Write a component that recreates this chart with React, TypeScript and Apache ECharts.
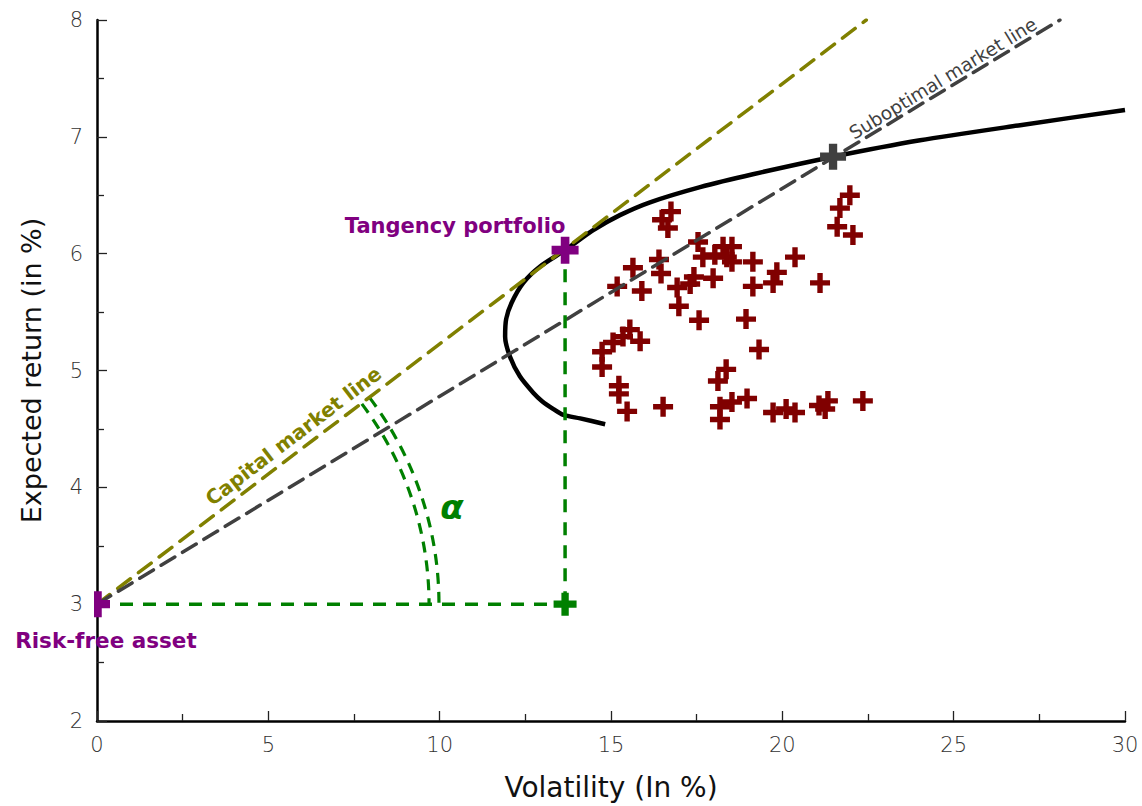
import { useEffect, useRef } from "react";
import * as echarts from "echarts";

// ---- data ----
const frontierX = [14.83, 14.1, 13.61, 13.32, 12.98, 12.73, 12.34, 12.05, 11.91, 11.94, 12.1, 12.44, 12.93, 13.66, 14.47, 15.26, 16.14, 17.6, 19.14, 21.49, 24.02, 26.94, 30.0];
const frontierY = [4.54, 4.59, 4.62, 4.67, 4.74, 4.81, 4.95, 5.12, 5.29, 5.44, 5.58, 5.75, 5.89, 6.03, 6.2, 6.33, 6.44, 6.57, 6.68, 6.83, 6.97, 7.1, 7.23];

const assetX = [16.75, 16.49, 16.66, 17.54, 16.4, 15.64, 16.46, 15.18, 15.9, 16.93, 17.31, 17.42, 17.68, 18.03, 18.27, 18.53, 18.53, 18.38, 17.98, 19.14, 19.14, 19.84, 19.73, 20.37, 21.1, 21.97, 21.68, 21.6, 22.06, 16.98, 17.57, 18.94, 19.32, 15.55, 15.85, 15.35, 15.06, 14.74, 14.74, 15.23, 15.23, 15.47, 16.52, 18.36, 18.12, 18.18, 18.53, 18.97, 18.18, 19.73, 20.11, 20.37, 21.07, 21.33, 21.25, 22.35];
const assetY = [6.36, 6.29, 6.22, 6.1, 5.95, 5.88, 5.83, 5.72, 5.68, 5.71, 5.74, 5.8, 5.97, 5.99, 6.06, 6.06, 5.93, 5.97, 5.79, 5.93, 5.72, 5.84, 5.75, 5.97, 5.75, 6.5, 6.39, 6.23, 6.16, 5.55, 5.43, 5.44, 5.18, 5.35, 5.25, 5.29, 5.24, 5.16, 5.03, 4.87, 4.8, 4.65, 4.69, 5.01, 4.91, 4.69, 4.73, 4.76, 4.58, 4.64, 4.67, 4.64, 4.7, 4.74, 4.67, 4.74];

const riskFreeX = [0];
const riskFreeY = [3];
const tangencyX = [13.66];
const tangencyY = [6.03];
const suboptimalX = [21.48];
const suboptimalY = [6.83];

const cmlX = [0, 22.45];
const cmlY = [3, 8];
const smlX = [0, 28.1];
const smlY = [3, 8];

const arcRadii = [9.69, 9.98];

const xTicks = [0, 5, 10, 15, 20, 25, 30];
const yTicks = [2, 3, 4, 5, 6, 7, 8];

const labelTexts = ["Tangency portfolio", "Risk-free asset", "Capital market line", "Suboptimal market line", "α"];
const labelX = [10.45, 0.26, 5.73, 24.69, 10.36];
const labelY = [6.24, 2.69, 4.44, 7.5, 3.83];

const PURPLE = "#800080";
const OLIVE = "#808000";
const GREEN = "#008000";
const GREY = "#404040";
const RED = "#800000";

const PLUS = "path://M-1.35,-5H1.35V-1.35H5V1.35H1.35V5H-1.35V1.35H-5V-1.35H-1.35Z";
const PLUS_BOLD = "path://M-1.6,-5H1.6V-1.6H5V1.6H1.6V5H-1.6V1.6H-5V-1.6H-1.6Z";
const HALF_PLUS = "path://M-1.6,-5H1.6V-1.6H5V1.6H1.6V5H-1.6Z";

const zip = (xs: number[], ys: number[]) => xs.map((x, i) => [x, ys[i]]);

const TICK_FONT = "'DejaVu Sans', sans-serif";
const LABEL_FONT = "'DejaVu Sans', sans-serif";

export default function App() {
  const ref = useRef<HTMLDivElement>(null);
  useEffect(() => {
    if (!ref.current) return;
    const chart = echarts.init(ref.current, null, { renderer: "svg" });

    const labelStyles = [
      { color: PURPLE, fontSize: 21, fontWeight: "bold", rotate: 0, fontStyle: "normal" },
      { color: PURPLE, fontSize: 21.5, fontWeight: "bold", rotate: 0, fontStyle: "normal" },
      { color: OLIVE, fontSize: 20, fontWeight: "bold", rotate: 37.3, fontStyle: "normal" },
      { color: GREY, fontSize: 18.5, fontWeight: "normal", rotate: 31.3, fontStyle: "normal" },
      { color: GREEN, fontSize: 34, fontWeight: "bold", rotate: 0, fontStyle: "italic" },
    ];

    const axisCommon = {
      type: "value" as const,
      splitLine: { show: false },
      minorSplitLine: { show: false },
      axisLine: { show: true, onZero: false, lineStyle: { color: "#000", width: 2.5 } },
      axisTick: { show: true, inside: true, length: 10, lineStyle: { color: "#222", width: 1.3 } },
      minorTick: { show: true, splitNumber: 2, length: 7, lineStyle: { color: "#222", width: 1.3 } },
    };

    chart.setOption({
      animation: false,
      backgroundColor: "#fff",
      grid: { left: 97, right: 17, top: 20, bottom: 84, containLabel: false },
      xAxis: {
        ...axisCommon,
        min: xTicks[0],
        max: xTicks[xTicks.length - 1],
        interval: 5,
        axisLabel: { fontSize: 21, color: "#333", margin: 13, fontFamily: TICK_FONT, fontWeight: 200 },
        name: "Volatility (In %)",
        nameLocation: "middle",
        nameGap: 52,
        nameTextStyle: { fontSize: 28, color: "#111", fontFamily: TICK_FONT },
      },
      yAxis: {
        ...axisCommon,
        min: yTicks[0],
        max: yTicks[yTicks.length - 1],
        interval: 1,
        axisLabel: { fontSize: 21, color: "#333", margin: 14, fontFamily: TICK_FONT, fontWeight: 200 },
        name: "Expected return (in %)",
        nameLocation: "middle",
        nameGap: 52,
        nameRotate: 90,
        nameTextStyle: { fontSize: 27, color: "#111", fontFamily: TICK_FONT },
      },
      series: [
        {
          type: "line",
          data: zip(frontierX, frontierY),
          symbol: "none",
          smooth: 0.25,
          lineStyle: { color: "#000", width: 4.5 },
          z: 2,
        },
        {
          type: "scatter",
          data: zip(assetX, assetY),
          symbol: PLUS,
          symbolSize: 20,
          itemStyle: { color: RED, opacity: 1 },
          z: 3,
        },
        {
          type: "line",
          data: zip(cmlX, cmlY),
          symbol: "none",
          lineStyle: { color: OLIVE, width: 3.5, type: [16, 10], cap: "round" },
          z: 4,
        },
        {
          type: "line",
          data: zip(smlX, smlY),
          symbol: "none",
          lineStyle: { color: GREY, width: 3.5, type: [16, 9], cap: "round" },
          z: 4,
        },
        {
          type: "line",
          data: [
            [riskFreeX[0], riskFreeY[0]],
            [tangencyX[0], riskFreeY[0]],
          ],
          symbol: "none",
          lineStyle: { color: GREEN, width: 3.5, type: [13, 10] },
          z: 4,
        },
        {
          type: "line",
          data: [
            [tangencyX[0], riskFreeY[0]],
            [tangencyX[0], tangencyY[0]],
          ],
          symbol: "none",
          lineStyle: { color: GREEN, width: 3.5, type: [13, 10] },
          z: 4,
        },
        {
          type: "custom",
          data: arcRadii.map((r) => [riskFreeX[0], riskFreeY[0], r]),
          encode: { x: 0, y: 1 },
          z: 4,
          renderItem: (_params: any, api: any) => {
            const c = api.coord([api.value(0), api.value(1)]);
            const e = api.coord([api.value(0) + api.value(2), api.value(1)]);
            const t = api.coord([tangencyX[0], tangencyY[0]]);
            const ang = Math.atan2(c[1] - t[1], t[0] - c[0]);
            return {
              type: "arc",
              shape: { cx: c[0], cy: c[1], r: e[0] - c[0], startAngle: -ang, endAngle: 0, clockwise: true },
              style: { stroke: GREEN, lineWidth: 3.2, fill: null, lineDash: [11, 8] },
            };
          },
        },
        {
          type: "scatter",
          data: zip(suboptimalX, suboptimalY),
          symbol: PLUS_BOLD,
          symbolSize: 26,
          itemStyle: { color: GREY, opacity: 1 },
          z: 6,
        },
        {
          type: "scatter",
          data: zip(tangencyX, tangencyY),
          symbol: PLUS_BOLD,
          symbolSize: 27,
          itemStyle: { color: PURPLE, opacity: 1 },
          z: 6,
        },
        {
          type: "scatter",
          data: [[tangencyX[0], riskFreeY[0]]],
          symbol: PLUS_BOLD,
          symbolSize: 23,
          itemStyle: { color: GREEN, opacity: 1 },
          z: 6,
        },
        {
          type: "scatter",
          data: zip(riskFreeX, riskFreeY),
          symbol: HALF_PLUS,
          symbolSize: [16, 26],
          symbolOffset: [5, 0],
          itemStyle: { color: PURPLE, opacity: 1 },
          z: 6,
        },
        {
          type: "scatter",
          symbolSize: 0.1,
          itemStyle: { color: "transparent", opacity: 1 },
          z: 7,
          silent: true,
          data: labelTexts.map((t, i) => ({
            value: [labelX[i], labelY[i]],
            label: {
              show: true,
              position: "inside",
              formatter: t,
              fontFamily: LABEL_FONT,
              align: "center",
              verticalAlign: "middle",
              opacity: 1,
              ...labelStyles[i],
            },
          })),
        },
      ],
    });
    return () => chart.dispose();
  }, []);
  return <div ref={ref} style={{ position: "absolute", left: 0, top: 0, width: 1142, height: 806 }} />;
}
